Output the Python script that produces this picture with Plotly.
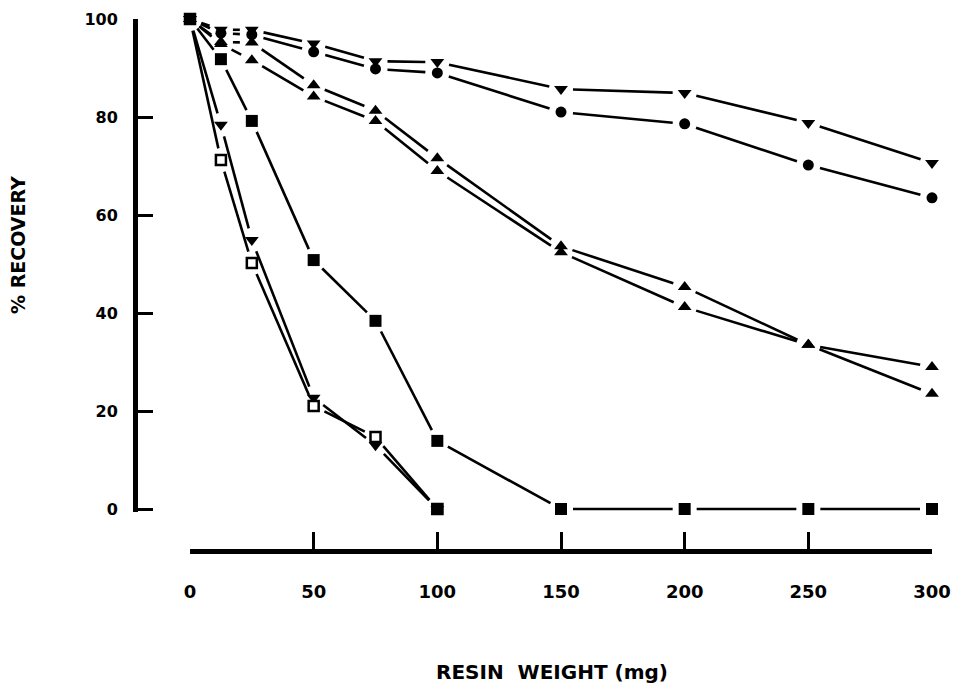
import plotly.graph_objects as go

# ---- data ----
resin_x = [0, 12.5, 25, 50, 75, 100, 150, 200, 250, 300]
tri_down_top = [100, 97.8, 97.8, 95.0, 91.4, 91.2, 85.7, 84.9, 78.8, 70.6]
circle_vals = [100, 97.1, 96.8, 93.3, 89.8, 89.0, 81.0, 78.6, 70.2, 63.5]
tri_up_a = [100, 95.3, 95.2, 86.5, 81.3, 71.6, 53.6, 45.3, 33.5, 29.0]
tri_up_b = [100, 94.9, 91.6, 84.2, 79.2, 69.0, 52.4, 41.2, 33.5, 23.5]
filled_sq = [100, 91.8, 79.2, 50.8, 38.4, 13.9, 0, 0, 0, 0]
steep_x = [0, 12.5, 25, 50, 75, 100]
open_sq = [100, 71.2, 50.2, 21.0, 14.7, 0]
tri_down_steep = [100, 78.4, 54.9, 22.7, 13.0, 0]
# points where the steep series sit on zero (printed as filled squares)
zero_x = [100]
zero_vals = [0]

x_ticks = [0, 50, 100, 150, 200, 250, 300]
y_ticks = [0, 20, 40, 60, 80, 100]

series = [
    (resin_x, tri_down_top, "triangle-down", 12, "black"),
    (resin_x, circle_vals, "circle", 11, "black"),
    (resin_x, tri_up_a, "triangle-up", 12, "black"),
    (resin_x, tri_up_b, "triangle-up", 12, "black"),
    (steep_x, tri_down_steep, "triangle-down", 12, "black"),
    (steep_x, open_sq, "square", 10, "white"),
    (resin_x, filled_sq, "square", 12, "black"),
    (zero_x, zero_vals, "square", 12, "black"),
]

# page body has an 8px margin; work in window pixels and convert
OFF = 8
W, H = 959 - OFF, 685 - OFF


def px(xp):
    return (xp - OFF) / W


def py(yp):
    return (H - (yp - OFF)) / H


Y_RANGE = [-0.6, 100]
X_RANGE = [0, 300]
XPU = (932 - 190) / 300.0   # pixels per data unit along x
YPU = (509 - 19) / 100.0    # pixels per data unit along y
y_bottom_px = 509 - Y_RANGE[0] * YPU
GAP = 12  # pixels left open between a line and each marker centre


def gapped(xs, ys):
    """Split a polyline into segments that stop short of each marker."""
    gx, gy = [], []
    for i in range(len(xs) - 1):
        ddx, ddy = xs[i + 1] - xs[i], ys[i + 1] - ys[i]
        length = ((ddx * XPU) ** 2 + (ddy * YPU) ** 2) ** 0.5
        if length <= 2 * GAP + 2:
            continue
        t = GAP / length
        gx += [xs[i] + t * ddx, xs[i + 1] - t * ddx, None]
        gy += [ys[i] + t * ddy, ys[i + 1] - t * ddy, None]
    return gx, gy


fig = go.Figure()

for xs, ys, sym, sz, fill in series:
    gx, gy = gapped(xs, ys)
    if gx:
        fig.add_trace(go.Scatter(x=gx, y=gy, mode="lines",
                                 line=dict(color="black", width=2.6),
                                 connectgaps=False, hoverinfo="skip",
                                 cliponaxis=True))

for xs, ys, sym, sz, fill in series:
    fig.add_trace(go.Scatter(x=xs, y=ys, mode="markers",
                             marker=dict(symbol=sym, size=sz, color=fill,
                                         line=dict(color="black",
                                                   width=2.5 if fill == "white" else 0)),
                             cliponaxis=False))

font_fam = "DejaVu Sans"
fig.update_layout(
    width=W, height=H,
    margin=dict(l=0, r=0, t=0, b=0),
    plot_bgcolor="white", paper_bgcolor="white",
    showlegend=False,
    font=dict(family=font_fam, color="black", weight="bold"),
    xaxis=dict(
        domain=[px(190), px(932)], range=X_RANGE,
        anchor="free", position=py(551),
        showline=True, linewidth=5, linecolor="black",
        ticks="inside", ticklen=17, tickwidth=3, tickcolor="black",
        tickvals=x_ticks, showgrid=False, zeroline=False,
        tickfont=dict(size=18, family=font_fam, weight="bold"),
        ticklabelstandoff=22, automargin=False,
    ),
    yaxis=dict(
        domain=[py(y_bottom_px), py(19)], range=Y_RANGE,
        anchor="free", position=px(135),
        showline=True, linewidth=5, linecolor="black",
        ticks="inside", ticklen=15, tickwidth=3, tickcolor="black",
        tickvals=y_ticks, showgrid=False, zeroline=False,
        tickfont=dict(size=16, family=font_fam, weight="bold"),
        ticklabelstandoff=12, automargin=False,
    ),
    annotations=[
        dict(text="% RECOVERY", xref="paper", yref="paper",
             x=px(18), y=py(245), xanchor="center", yanchor="middle",
             textangle=-90, showarrow=False,
             font=dict(size=19, family=font_fam, weight="bold")),
        dict(text="RESIN  WEIGHT (mg)", xref="paper", yref="paper",
             x=px(552), y=py(672), xanchor="center", yanchor="middle",
             showarrow=False,
             font=dict(size=20, family=font_fam, weight="bold")),
    ],
)

fig.write_html("out.html")
